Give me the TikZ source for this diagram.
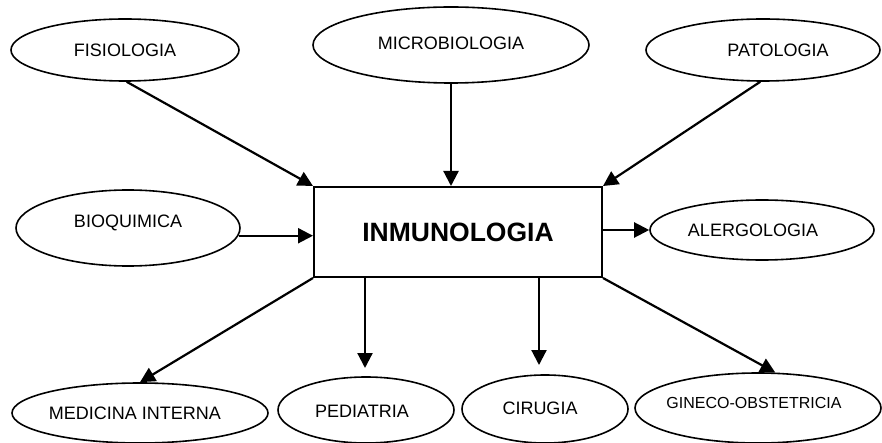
\documentclass[tikz,border=0pt]{standalone}
\usepackage{fontspec}
\setmainfont{Liberation Sans}
\usetikzlibrary{shapes.geometric,arrows.meta}
\begin{document}
\begin{tikzpicture}[x=1pt,y=-1pt,
  ell/.style={draw,ellipse,line width=1.6pt,inner sep=0pt},
  lbl/.style={font=\fontsize{18}{20}\selectfont,inner sep=0pt},
  conn/.style={line width=2.2pt,-{Triangle[length=15pt,width=15pt]}}]
\useasboundingbox (0,0) rectangle (882,443);
% ellipses
\node[ell,minimum width=228pt,minimum height=62pt] (fis) at (125,50) {};
\node[lbl] at (125,50) {FISIOLOGIA};
\node[ell,minimum width=276pt,minimum height=76pt] (mic) at (451,45) {};
\node[lbl] at (451,43) {MICROBIOLOGIA};
\node[ell,minimum width=234pt,minimum height=62pt] (pat) at (763,50) {};
\node[lbl] at (778,50) {PATOLOGIA};
\node[ell,minimum width=224pt,minimum height=76pt] (bio) at (128,228) {};
\node[lbl] at (128,223) {BIOQUIMICA};
\node[ell,minimum width=224pt,minimum height=60pt] (ale) at (762,230) {};
\node[lbl] at (753,230) {ALERGOLOGIA};
\node[ell,minimum width=256pt,minimum height=60pt] (med) at (140,413) {};
\node[lbl] at (135,413) {MEDICINA INTERNA};
\node[ell,minimum width=176pt,minimum height=66pt] (ped) at (366,410) {};
\node[lbl] at (362,411) {PEDIATRIA};
\node[ell,minimum width=166pt,minimum height=68pt] (cir) at (545,409) {};
\node[lbl] at (540,408) {CIRUGIA};
\node[ell,minimum width=246pt,minimum height=70pt] (gin) at (758,408) {};
\node[lbl,font=\fontsize{16}{18}\selectfont] at (754,403) {GINECO-OBSTETRICIA};
% central box
\node[draw,line width=2pt,minimum width=288pt,minimum height=90pt,inner sep=0pt,
  font=\bfseries\fontsize{26.5}{30}\selectfont] (box) at (458,232) {INMUNOLOGIA};
% connectors
\draw[conn] (fis.-87) -- (box.north west);
\draw[conn] (mic.south) -- (box.north -| mic.south);
\draw[conn] (pat.-95) -- (box.north east);
\draw[conn] (bio.-4) -- (box.west |- bio.-4);
\draw[conn] (box.east |- ale.west) -- (ale.west);
\draw[conn] (box.south west) -- (med.north);
\coordinate (pedtip) at (365,368);
\coordinate (cirtip) at (539,365);
\draw[conn] (box.south -| pedtip) -- (pedtip);
\draw[conn] (box.south -| cirtip) -- (cirtip);
\draw[conn] (box.south east) -- (gin.64);
\end{tikzpicture}
\end{document}
